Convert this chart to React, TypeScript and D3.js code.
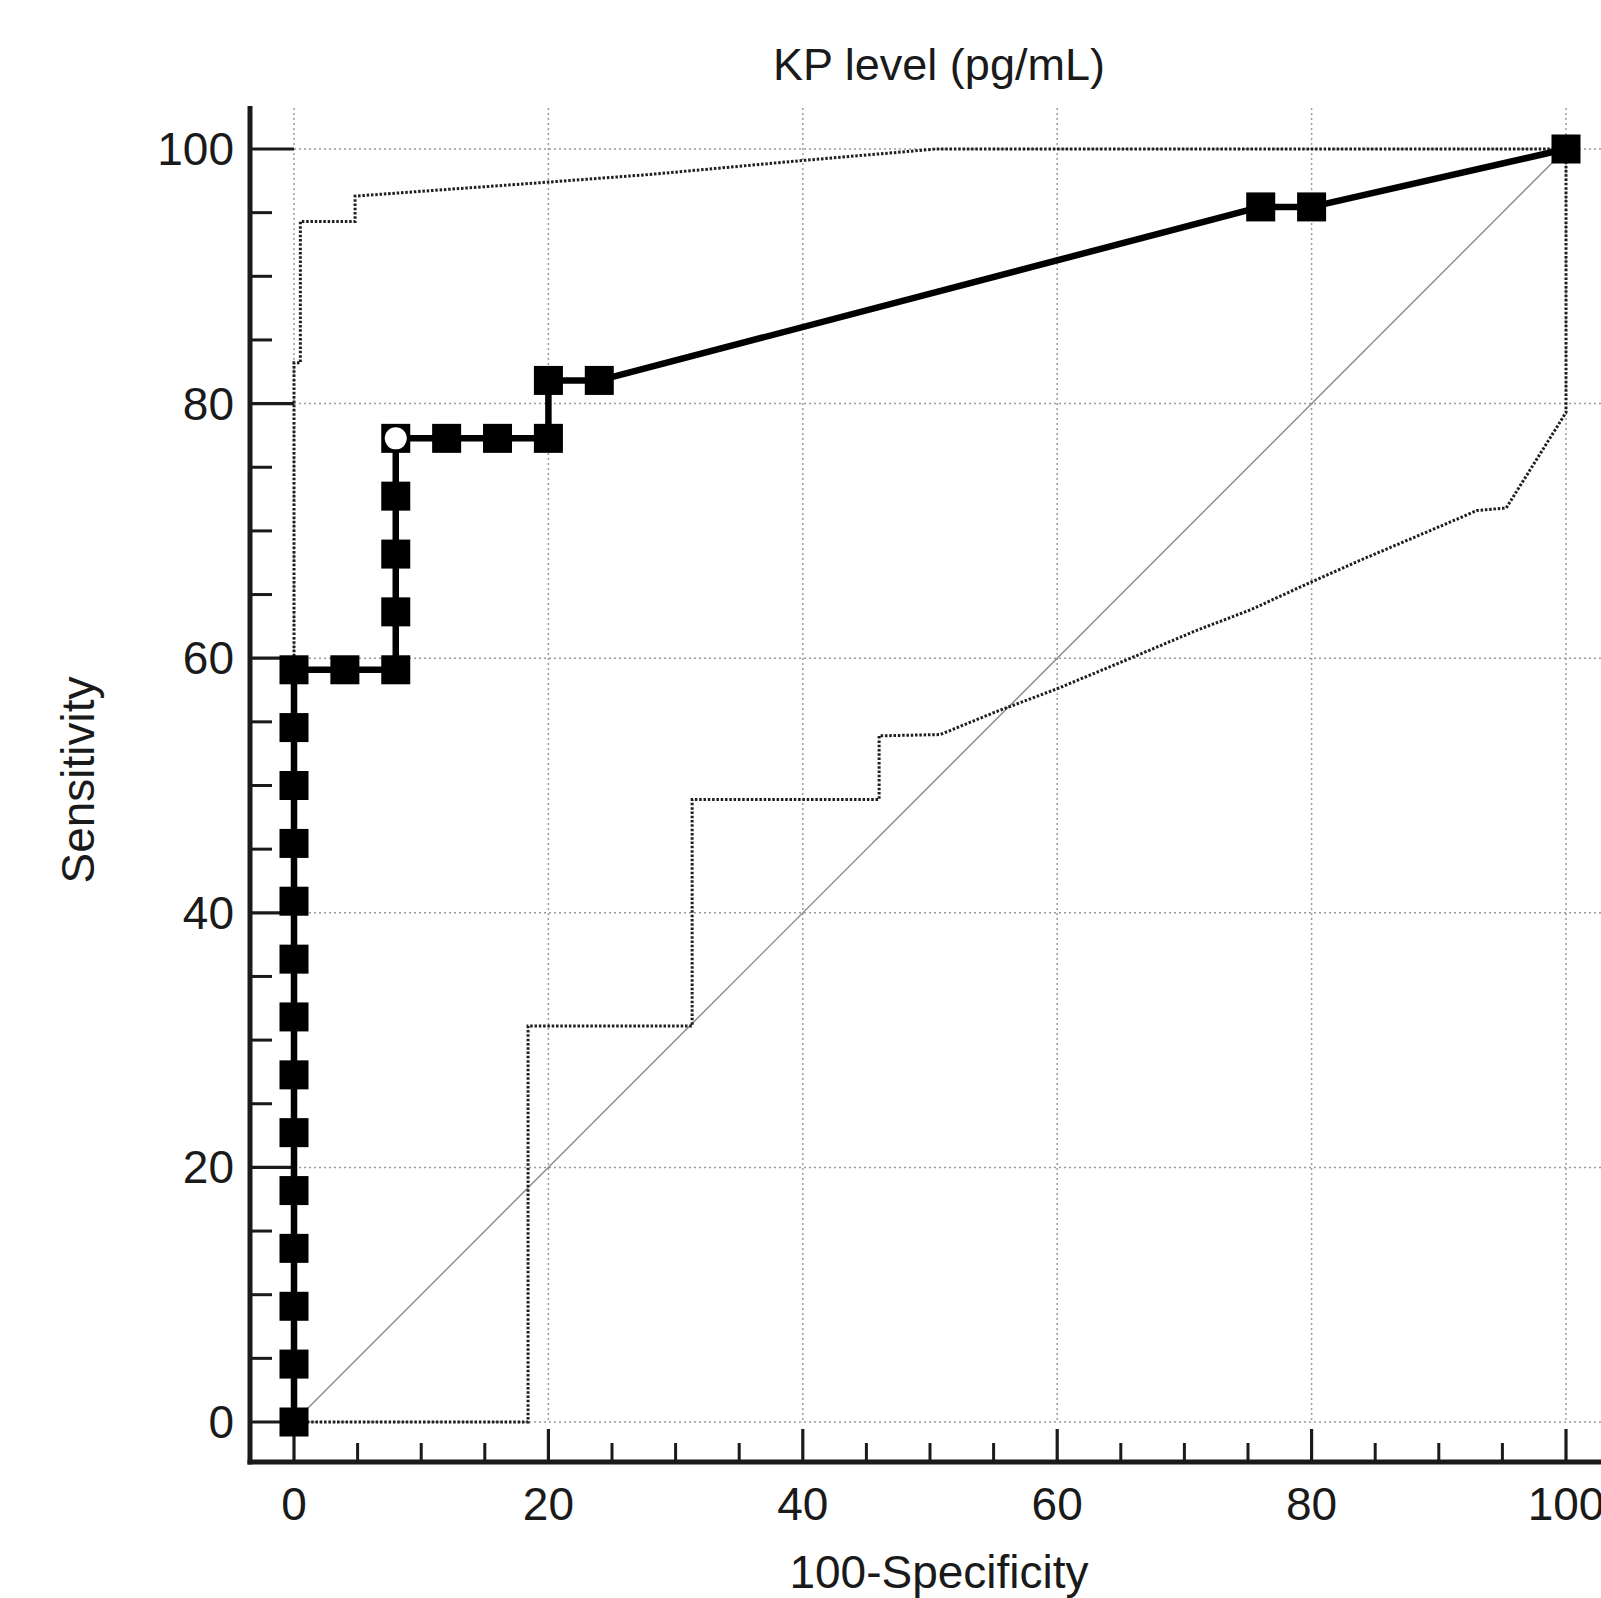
import React from 'react';
import * as d3 from 'd3';

// ROC curve: 100-Specificity (x) and Sensitivity (y), in %
const rocX = [0, 0, 0, 0, 0, 0, 0, 0, 0, 0, 0, 0, 0, 0, 4, 8, 8, 8, 8, 8, 12, 16, 20, 20, 24, 76, 80, 100];
const rocY = [0, 4.55, 9.09, 13.64, 18.18, 22.73, 27.27, 31.82, 36.36, 40.91, 45.45, 50, 54.55, 59.09, 59.09, 59.09,
  63.64, 68.18, 72.73, 77.27, 77.27, 77.27, 77.27, 81.82, 81.82, 95.45, 95.45, 100];
const criterionIndex = 19;

// confidence bounds
const upperX = [0, 0, 0.5, 0.5, 4.8, 4.8, 20, 28, 40, 50.5, 100];
const upperY = [0, 83.2, 83.2, 94.3, 94.3, 96.3, 97.4, 98.0, 99.1, 100, 100];
const lowerX = [0, 18.4, 18.4, 31.3, 31.3, 46.0, 46.0, 50.8, 55.2, 60, 66, 71, 75.2, 80, 83.6, 89.5, 93.0, 95.3, 100, 100];
const lowerY = [0, 0, 31.1, 31.1, 48.9, 48.9, 53.9, 54.0, 55.8, 57.6, 60.1, 62.2, 63.8, 66.0, 67.6, 70.1, 71.6, 71.8, 79.3, 100];

const majorTicks = [0, 20, 40, 60, 80, 100];
const minorTicks = [5, 10, 15, 25, 30, 35, 45, 50, 55, 65, 70, 75, 85, 90, 95];

const title = 'KP level (pg/mL)';
const xTitle = '100-Specificity';
const yTitle = 'Sensitivity';

export default function App() {
  const width = 1601;
  const height = 1598;
  const axisX = 250;  // y-axis line
  const axisY = 1462; // x-axis line
  const plotTop = 108;

  const x = d3.scaleLinear().domain([0, 100]).range([294, 1566]);
  const y = d3.scaleLinear().domain([0, 100]).range([1422, 149]);

  const toPts = (xs: number[], ys: number[]) => xs.map((v, i) => [v, ys[i]] as [number, number]);
  const line = d3.line<[number, number]>().x(d => x(d[0])).y(d => y(d[1]));

  const rocPts = toPts(rocX, rocY);
  const font = '"Liberation Sans", Arial, sans-serif';
  const ink = '#1a1a1a';
  const sq = 29;

  return (
    <svg width={width} height={height} style={{ position: 'absolute', left: 0, top: 0, background: '#fff' }}
      fontFamily={font}>
      {/* grid */}
      {majorTicks.map(t => (
        <line key={'gx' + t} x1={x(t)} x2={x(t)} y1={plotTop} y2={y(0)}
          stroke="#9a9a9a" strokeWidth={1.5} strokeDasharray="2,3" />
      ))}
      {majorTicks.map(t => (
        <line key={'gy' + t} x1={x(0)} x2={width} y1={y(t)} y2={y(t)}
          stroke="#9a9a9a" strokeWidth={1.5} strokeDasharray="2,3" />
      ))}

      {/* diagonal reference */}
      <path d={line([[0, 0], [100, 100]]) || ''} fill="none" stroke="#8a8a8a" strokeWidth={1.4} />

      {/* confidence bounds */}
      <path d={line(toPts(upperX, upperY)) || ''} fill="none" stroke="#1f1f1f" strokeWidth={3} strokeDasharray="2.5,1.8" />
      <path d={line(toPts(lowerX, lowerY)) || ''} fill="none" stroke="#1f1f1f" strokeWidth={3} strokeDasharray="2.5,1.8" />

      {/* axes */}
      <line x1={axisX} x2={axisX} y1={plotTop - 2} y2={axisY + 2.5} stroke={ink} strokeWidth={5} />
      <line x1={axisX - 2.5} x2={width} y1={axisY} y2={axisY} stroke={ink} strokeWidth={5} />
      {majorTicks.map(t => (
        <line key={'ty' + t} x1={axisX} x2={x(0)} y1={y(t)} y2={y(t)} stroke={ink} strokeWidth={3.2} />
      ))}
      {minorTicks.map(t => (
        <line key={'tym' + t} x1={axisX} x2={axisX + 22} y1={y(t)} y2={y(t)} stroke={ink} strokeWidth={3} />
      ))}
      {majorTicks.map(t => (
        <line key={'tx' + t} x1={x(t)} x2={x(t)} y1={axisY} y2={axisY - 33} stroke={ink} strokeWidth={3.2} />
      ))}
      {minorTicks.map(t => (
        <line key={'txm' + t} x1={x(t)} x2={x(t)} y1={axisY} y2={axisY - 19} stroke={ink} strokeWidth={3} />
      ))}

      {/* tick labels */}
      {majorTicks.map(t => (
        <text key={'ly' + t} x={234} y={y(t) + 16} textAnchor="end" fontSize={46} fill={ink}>{t}</text>
      ))}
      {majorTicks.map(t => (
        <text key={'lx' + t} x={x(t)} y={1520} textAnchor="middle" fontSize={46} fill={ink}>{t}</text>
      ))}

      {/* titles */}
      <text x={939} y={80} textAnchor="middle" fontSize={45} fill={ink}>{title}</text>
      <text x={939} y={1588} textAnchor="middle" fontSize={46} fill={ink}>{xTitle}</text>
      <text transform={`translate(94, 780) rotate(-90)`} textAnchor="middle" fontSize={46} fill={ink}>{yTitle}</text>

      {/* ROC curve */}
      <path d={line(rocPts) || ''} fill="none" stroke="#000" strokeWidth={6.5} strokeLinejoin="round" />
      {rocPts.map((p, i) => (
        <rect key={'m' + i} x={x(p[0]) - sq / 2} y={y(p[1]) - sq / 2} width={sq} height={sq} fill="#000" />
      ))}
      <circle cx={x(rocX[criterionIndex])} cy={y(rocY[criterionIndex])} r={11} fill="#fff" />
    </svg>
  );
}
